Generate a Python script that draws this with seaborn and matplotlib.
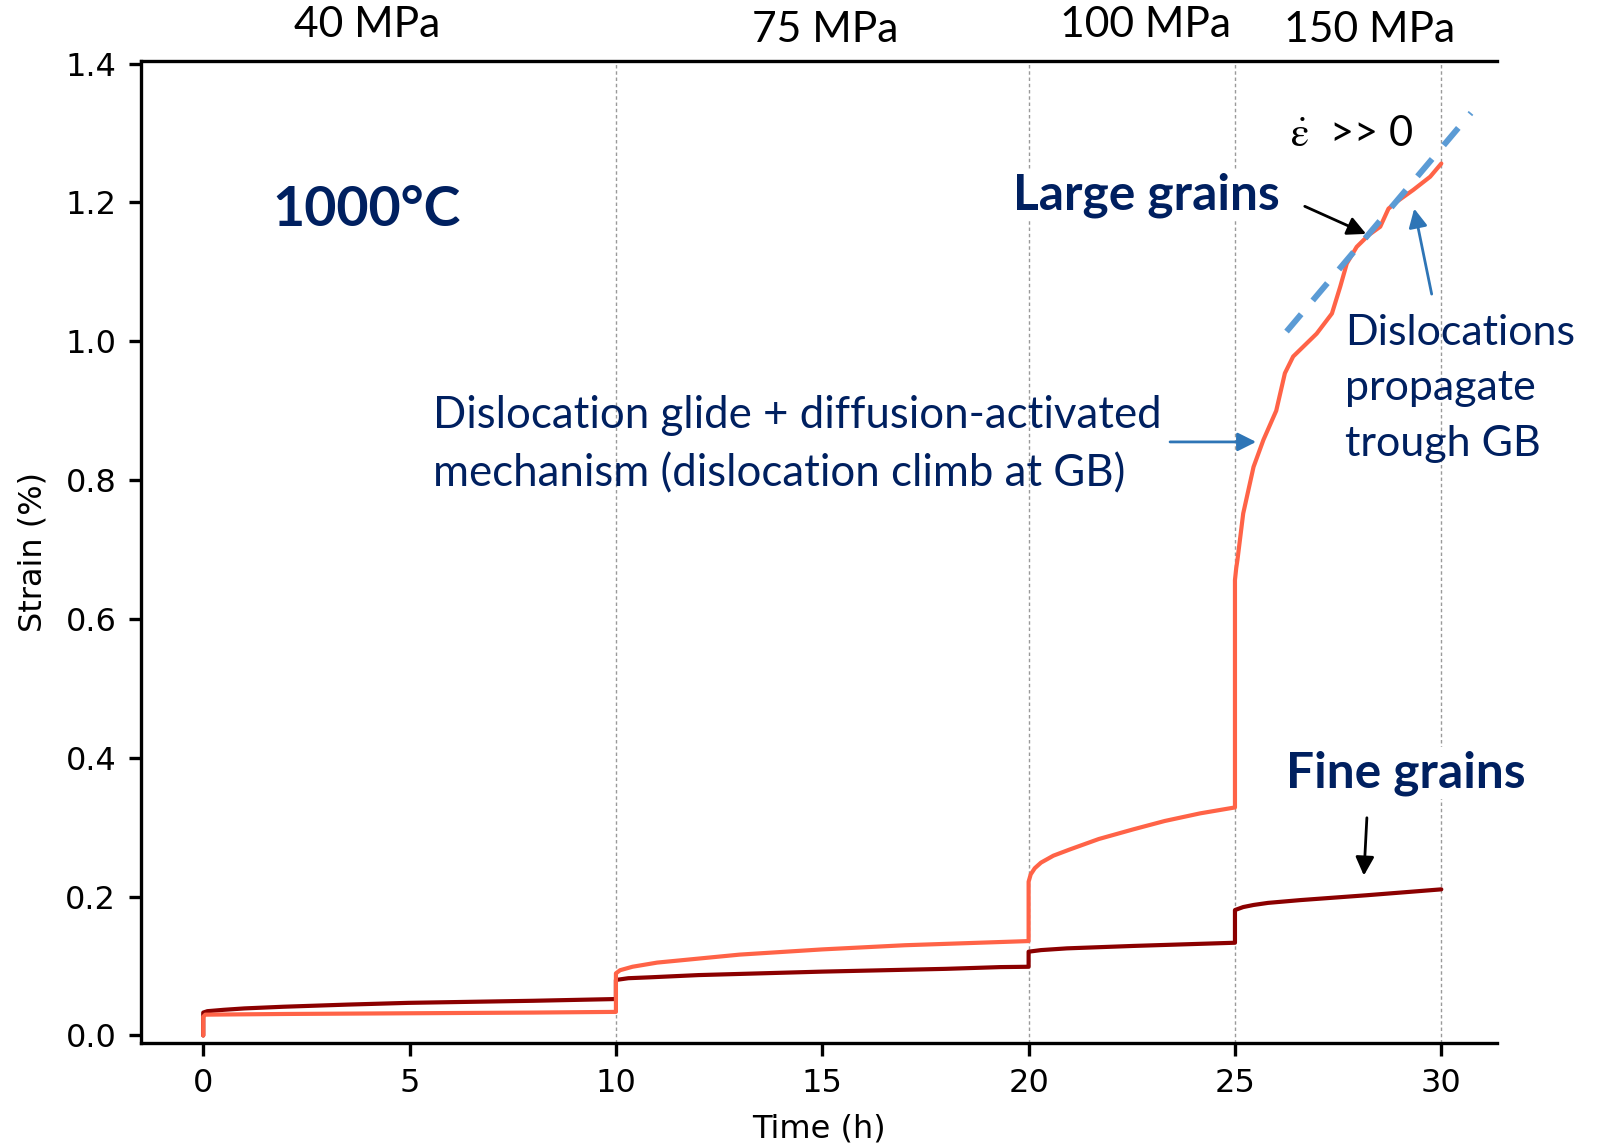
import numpy as np
import pandas as pd
import seaborn as sns
import matplotlib
matplotlib.use('Agg')
import matplotlib.pyplot as plt

# creep curves at 1000 C, stress steps 40/75/100/150 MPa
time_large = [0, 0, 0.05, 2, 5, 8, 10, 10, 10.1, 10.4, 11, 13, 15, 17, 20,
              20, 20.05, 20.15, 20.3, 20.6, 21.0, 21.7, 22.54, 23.3, 24.16, 25,
              25, 25.03, 25.06, 25.2, 25.45, 25.69, 26.0, 26.21, 26.41, 26.98,
              27.35, 27.55, 27.71, 27.95, 28.24, 28.52, 28.72, 28.92, 29.32, 29.73, 30.0]
strain_large = [0, 0.027, 0.030, 0.031, 0.032, 0.033, 0.034, 0.0895, 0.094, 0.099, 0.105, 0.1165, 0.124, 0.130, 0.136,
                0.2215, 0.232, 0.241, 0.249, 0.259, 0.268, 0.283, 0.297, 0.309, 0.320, 0.3285,
                0.656, 0.673, 0.685, 0.752, 0.819, 0.858, 0.900, 0.954, 0.978, 1.011,
                1.040, 1.0785, 1.112, 1.136, 1.153, 1.165, 1.191, 1.201, 1.218, 1.237, 1.256]

time_fine = [0, 0, 0.1, 0.5, 1.0, 1.94, 3.5, 4.97, 8, 10, 10, 10.3, 10.83, 12, 15, 18, 19.31, 20,
             20, 20.3, 20.93, 22.54, 25, 25, 25.2, 25.45, 25.8, 26.58, 28.19, 30]
strain_fine = [0, 0.033, 0.035, 0.037, 0.039, 0.0414, 0.0445, 0.047, 0.050, 0.0525, 0.080, 0.0825, 0.0838, 0.087, 0.092, 0.096, 0.0985, 0.099,
               0.1207, 0.123, 0.1255, 0.129, 0.1336, 0.1807, 0.185, 0.188, 0.191, 0.195, 0.202, 0.2105]

# steady-state fit line for the last step
fit_time = [26.25, 30.72]
fit_strain = [1.014, 1.329]

step_times = [10, 20, 25, 30]
step_labels = ['40 MPa', '75 MPa', '100 MPa', '150 MPa']
step_label_x = [3.97, 15.06, 22.83, 28.26]
step_label_y = [1.455, 1.448, 1.455, 1.448]

navy = '#002060'
arrow_blue = '#2E75B6'

sns.set_style('ticks', {'axes.edgecolor': 'black', 'text.color': 'black',
                        'xtick.color': 'black', 'ytick.color': 'black',
                        'axes.labelcolor': 'black'})
plt.rcParams['font.family'] = ['DejaVu Sans']

fig = plt.figure(figsize=(16.06, 11.45), dpi=100)
ax = fig.add_axes([0.088, 0.0894, 0.8444, 0.8569])

for t in step_times:
    ax.axvline(t, color='#9a9a9a', lw=1.0, ls=(0, (2.5, 2)), zorder=1)

df_fine = pd.DataFrame({'t': time_fine, 's': strain_fine})
df_large = pd.DataFrame({'t': time_large, 's': strain_large})
sns.lineplot(data=df_fine, x='t', y='s', estimator=None, sort=False,
             color='#8B0000', lw=3.0, ax=ax, zorder=2)
sns.lineplot(data=df_large, x='t', y='s', estimator=None, sort=False,
             color='#FF6347', lw=3.0, ax=ax, zorder=2)
ax.plot(fit_time, fit_strain, color='#5B9BD5', lw=4.3, dashes=(3.8, 3.0),
        dash_capstyle='butt', zorder=3)

ax.set_xlim(-1.5, 31.36)
ax.set_ylim(-0.0103, 1.403)
ax.set_xticks([0, 5, 10, 15, 20, 25, 30])
ax.set_yticks(np.arange(0, 1.41, 0.2))
ax.set_yticklabels(['%.1f' % v for v in np.arange(0, 1.41, 0.2)])

ax.set_xlabel('Time (h)', fontsize=23, labelpad=11)
ax.set_ylabel('Strain (%)', fontsize=23, labelpad=12)
ax.tick_params(axis='both', labelsize=23, length=9, width=2.4, pad=9)

ax.spines['right'].set_visible(False)
for s in ['left', 'bottom', 'top']:
    ax.spines[s].set_linewidth(2.4)

for x, y, lab in zip(step_label_x, step_label_y, step_labels):
    ax.text(x, y, lab, fontsize=30.7, family='Lato', ha='center', va='center')

ax.text(3.97, 1.189, '1000°C', fontsize=40, family='Lato', weight='bold',
        color=navy, ha='center', va='center')
ax.text(22.85, 1.211, 'Large grains', fontsize=35.7, family='Lato', weight='bold',
        color=navy, ha='center', va='center',
        bbox=dict(facecolor='white', edgecolor='none', pad=2), zorder=4)
ax.text(29.13, 0.378, 'Fine grains', fontsize=35.7, family='Lato', weight='bold',
        color=navy, ha='center', va='center',
        bbox=dict(facecolor='white', edgecolor='none', pad=2), zorder=4)
ax.text(5.56, 0.851, 'Dislocation glide + diffusion-activated\nmechanism (dislocation climb at GB)',
        fontsize=31.5, family='Lato', color=navy, ha='left', va='center', linespacing=1.5)
ax.text(27.67, 0.932, 'Dislocations\npropagate\ntrough GB',
        fontsize=31, family='Lato', color=navy, ha='left', va='center', linespacing=1.55)
ax.text(27.84, 1.298, r'$\dot{\mathrm{\varepsilon}}$  >> 0', fontsize=30, family='Lato',
        math_fontfamily='stix', color='black', ha='center', va='center')

ax.annotate('', xy=(28.24, 1.153), xytext=(26.63, 1.196),
            arrowprops=dict(arrowstyle='-|>', color='black', lw=2, mutation_scale=28))
ax.annotate('', xy=(28.12, 0.2264), xytext=(28.20, 0.3176),
            arrowprops=dict(arrowstyle='-|>', color='black', lw=2, mutation_scale=28))
ax.annotate('', xy=(25.58, 0.855), xytext=(23.36, 0.855),
            arrowprops=dict(arrowstyle='-|>', color=arrow_blue, lw=2, mutation_scale=28))
ax.annotate('', xy=(29.33, 1.195), xytext=(29.78, 1.064),
            arrowprops=dict(arrowstyle='-|>', color=arrow_blue, lw=2, mutation_scale=28))

fig.savefig('out.png', dpi=100)
